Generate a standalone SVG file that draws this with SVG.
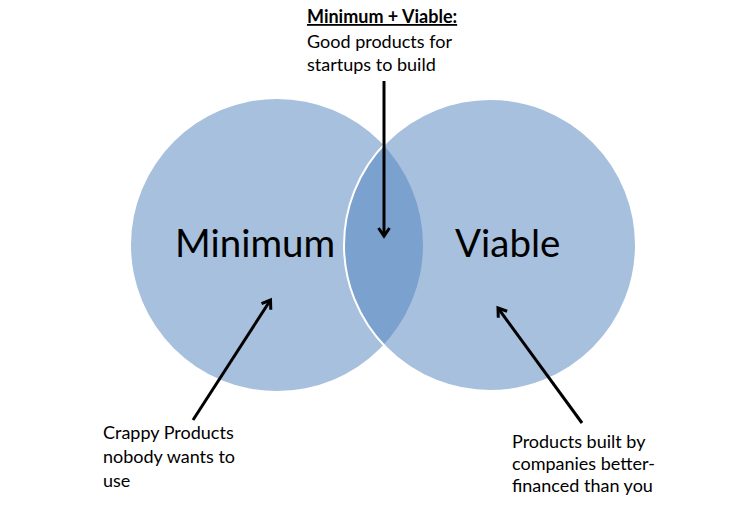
<svg xmlns="http://www.w3.org/2000/svg" width="750" height="510" viewBox="0 0 750 510">
<style>
.circle{fill:#4F81BD;fill-opacity:0.5}
.big{font-family:Lato,"Liberation Sans",sans-serif;font-size:38.5px;fill:#000}
.lbl{font-family:Lato,"Liberation Sans",sans-serif;font-size:18px;fill:#000}
.conn{stroke:#000;stroke-width:3;fill:none}
</style>
<defs>
<marker id="arrow" markerUnits="userSpaceOnUse" markerWidth="20" markerHeight="20" refX="0" refY="0" orient="auto" overflow="visible">
<path d="M-8,-5.5 L0,0 L-8,5.5" fill="none" stroke="#000" stroke-width="3" stroke-linejoin="miter"/>
</marker>
</defs>
<rect width="750" height="510" fill="#fff"/>
<g id="minimum">
<circle class="circle" cx="277" cy="245" r="146"/>
<text class="big" x="175" y="257">Minimum</text>
</g>
<g id="viable">
<circle class="circle" cx="490" cy="245" r="146" stroke="#fff" stroke-width="2"/>
<text class="big" x="455" y="257">Viable</text>
</g>
<g id="top-label">
<text class="lbl" x="307" y="23" font-weight="bold" text-decoration="underline">Minimum + Viable:</text>
<text class="lbl" x="307" y="48">Good products for</text>
<text class="lbl" x="307" y="71">startups to build</text>
</g>
<g id="left-label">
<text class="lbl" x="103" y="439">Crappy Products</text>
<text class="lbl" x="103" y="463">nobody wants to</text>
<text class="lbl" x="103" y="487">use</text>
</g>
<g id="right-label">
<text class="lbl" x="512" y="448">Products built by</text>
<text class="lbl" x="512" y="470">companies better-</text>
<text class="lbl" x="512" y="492">financed than you</text>
</g>
<g id="connectors">
<line class="conn" x1="384" y1="81" x2="384" y2="236" marker-end="url(#arrow)"/>
<line class="conn" x1="193" y1="420" x2="270.5" y2="300" marker-end="url(#arrow)"/>
<line class="conn" x1="582" y1="423" x2="498" y2="308" marker-end="url(#arrow)"/>
</g>
</svg>
